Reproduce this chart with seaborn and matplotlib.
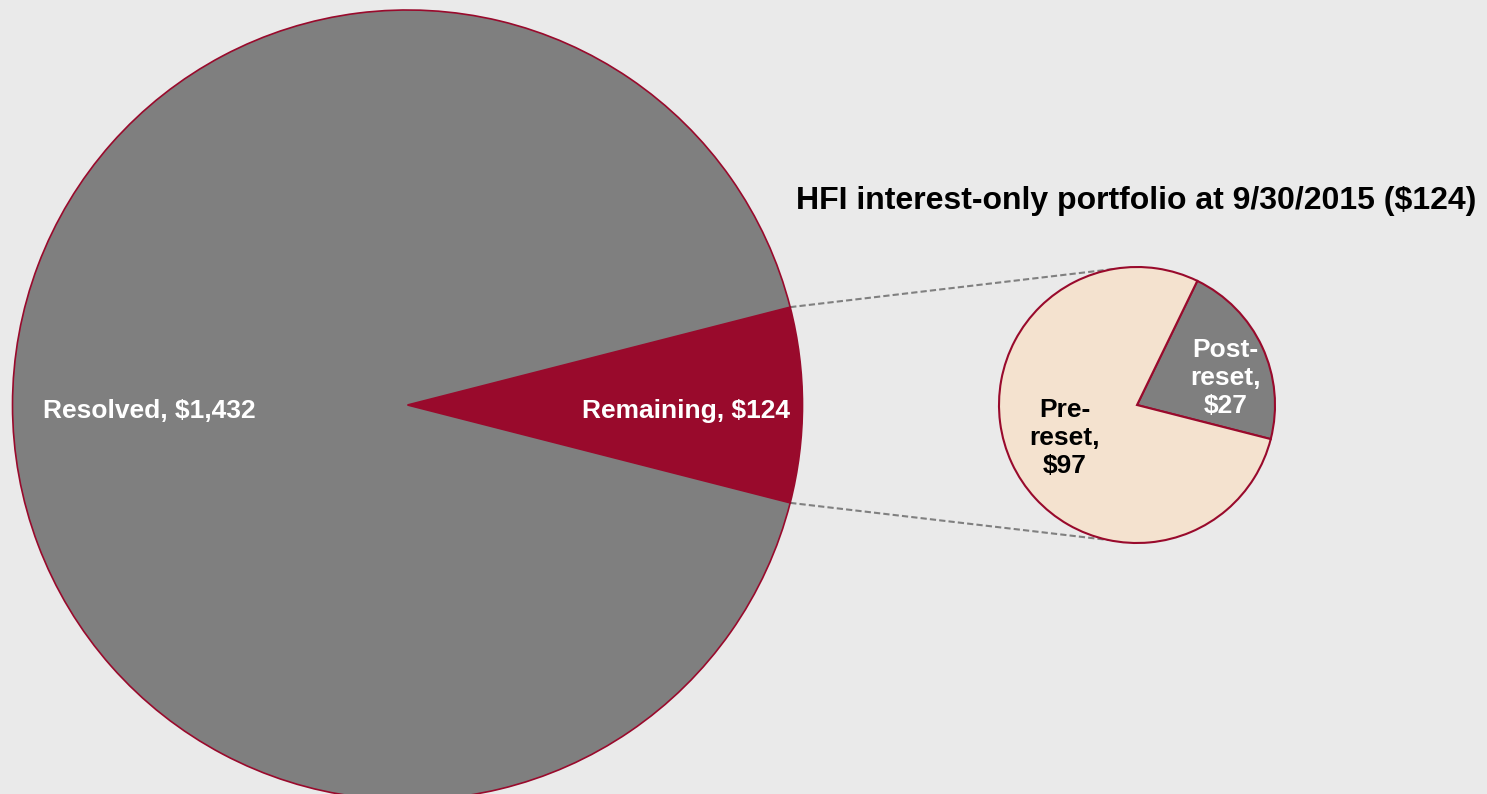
import matplotlib
matplotlib.use("Agg")
import matplotlib.pyplot as plt
import numpy as np
import seaborn as sns

# data ($ millions)
portfolio_labels = ["Remaining, $124", "Resolved, $1,432"]
portfolio_values = [124, 1432]
io_labels = ["Post-\nreset,\n$27", "Pre-\nreset,\n$97"]
io_values = [27, 97]
title = "HFI interest-only portfolio at 9/30/2015 ($124)"

gray = "#7F7F7F"
red = "#990A2C"
peach = "#F4E2CF"
bg = "#EAEAEA"

sns.set_style("white", {"axes.facecolor": bg, "figure.facecolor": bg})
plt.rcParams["font.family"] = ["Liberation Sans", "DejaVu Sans"]

W, H = 1487, 794
fig = plt.figure(figsize=(W / 100, H / 100), dpi=100)
ax = fig.add_axes([0, 0, 1, 1])

# layout in pixel units (y up)
big_c, big_r = (407.5, H - 405), 395
small_c, small_r = (1137, H - 405), 138

# big pie, remaining slice centred on the right
start_big = -360 * portfolio_values[0] / sum(portfolio_values) / 2
w_big, _ = ax.pie(portfolio_values, colors=[red, gray], startangle=start_big,
                  center=big_c, radius=big_r, frame=True,
                  wedgeprops=dict(edgecolor=red, linewidth=1.2))

w_small, _ = ax.pie(io_values, colors=[gray, peach], startangle=-14.3,
                    center=small_c, radius=small_r, frame=True,
                    wedgeprops=dict(edgecolor=red, linewidth=1.5))

ax.set_xlim(0, W)
ax.set_ylim(0, H)
ax.set_aspect("equal")
ax.axis("off")


def polar(c, r, ang):
    a = np.deg2rad(ang)
    return c[0] + r * np.cos(a), c[1] + r * np.sin(a)


# labels (distance as fraction of radius, angle in degrees)
big_pos = [(0.705, 0), (0.653, 180)]
for lab, (f, a) in zip(portfolio_labels, big_pos):
    x, y = polar(big_c, f * big_r, a)
    ax.text(x, y - 6, lab, ha="center", va="center", color="white",
            fontsize=19, fontweight="bold")

small_pos = [(0.67, 17), (0.574, 204.6)]
for lab, (f, a), col in zip(io_labels, small_pos, ["white", "black"]):
    x, y = polar(small_c, f * small_r, a)
    ax.text(x, y, lab, ha="center", va="center", color=col,
            fontsize=19, fontweight="bold", linespacing=1.2)

# dashed connectors from the remaining slice to the small pie
rem = w_big[0]
for th, target in [(rem.theta2, 100), (rem.theta1, -102)]:
    x0, y0 = polar(big_c, big_r, th)
    x1, y1 = polar(small_c, small_r, target)
    ax.plot([x0, x1], [y0, y1], color="#808080", linestyle=(0, (3, 1.5)),
            linewidth=1.5, zorder=0.5)

ax.text(796, H - 209, title, ha="left", va="baseline", fontsize=23,
        fontweight="bold", color="black")

fig.savefig("out.png", dpi=100, facecolor=bg)
